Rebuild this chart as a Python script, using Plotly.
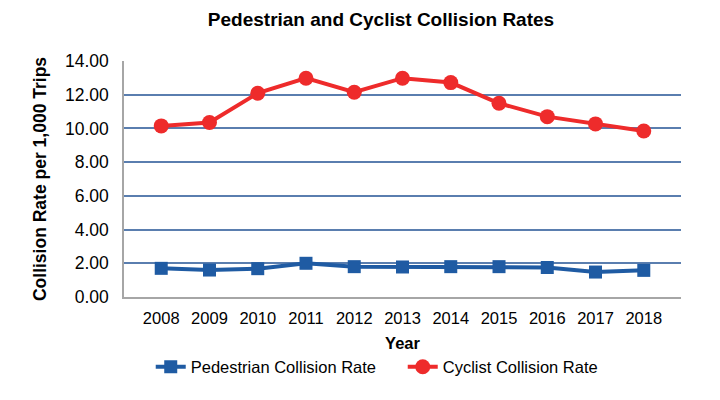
import plotly.graph_objects as go

years = ["2008", "2009", "2010", "2011", "2012", "2013", "2014", "2015", "2016", "2017", "2018"]
pedestrian = [1.70, 1.60, 1.68, 2.00, 1.80, 1.78, 1.80, 1.80, 1.75, 1.48, 1.58]
cyclist = [10.15, 10.35, 12.09, 12.98, 12.15, 12.98, 12.72, 11.49, 10.70, 10.27, 9.85]
y_ticks = [0, 2, 4, 6, 8, 10, 12, 14]

blue = "#1F5BA3"
red = "#EE2B2B"
font = "Liberation Sans, Arial, sans-serif"

fig = go.Figure()
fig.add_trace(go.Scatter(
    x=years, y=pedestrian, name="Pedestrian Collision Rate", mode="lines+markers",
    line=dict(color=blue, width=4), marker=dict(symbol="square", size=13, color=blue),
))
fig.add_trace(go.Scatter(
    x=years, y=cyclist, name="Cyclist Collision Rate", mode="lines+markers",
    line=dict(color=red, width=4), marker=dict(symbol="circle", size=15, color=red),
))

fig.update_layout(
    width=720, height=400,
    margin=dict(l=124, r=39, t=61, b=103),
    paper_bgcolor="white", plot_bgcolor="white",
    font=dict(family=font, size=16, color="#000000"),
    title=dict(text="<b>Pedestrian and Cyclist Collision Rates</b>",
               x=381/720, xanchor="center", xref="container",
               y=1 - 19/400, yanchor="middle", yref="container",
               font=dict(size=19, family=font)),
    showlegend=True,
    legend=dict(orientation="h", x=0.048, xanchor="left", y=-0.297, yanchor="middle",
                font=dict(size=16.5, family=font), itemwidth=30,
                entrywidth=207, entrywidthmode="pixels"),
    xaxis=dict(
        type="category", showgrid=False, showline=True, linecolor="#A6A6A6", linewidth=1.5,
        ticks="outside", ticklen=5, tickcolor="rgba(0,0,0,0)",
        tickfont=dict(size=16.5), zeroline=False,
        title=dict(text="<b>Year</b>", font=dict(size=16.5), standoff=12),
    ),
    yaxis=dict(
        range=[0, 14], tickvals=y_ticks, tickformat=".2f",
        showgrid=True, gridcolor="#5A7EAF", gridwidth=1.5,
        showline=True, linecolor="#A6A6A6", linewidth=1.5, zeroline=False,
        ticks="outside", ticklen=10, tickcolor="rgba(0,0,0,0)",
        tickfont=dict(size=17.5),
        title=dict(text="<b>Collision Rate per 1,000 Trips</b>", font=dict(size=17.5), standoff=14),
    ),
)

fig.write_html("out.html")
